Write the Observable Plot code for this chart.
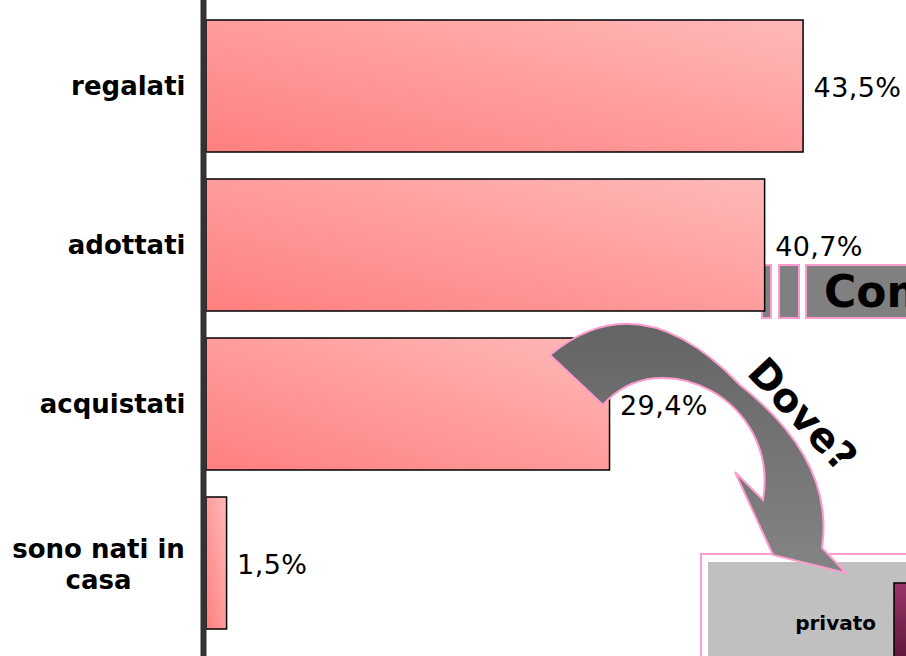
<!DOCTYPE html>
<html><head><meta charset="utf-8">
<script src="https://cdn.jsdelivr.net/npm/d3@7"></script>
<script src="https://cdn.jsdelivr.net/npm/@observablehq/plot@0.6"></script>
<style>
body{margin:0;background:#fff;overflow:hidden}
#chart{position:relative;width:906px;height:656px;overflow:hidden}
</style>
</head><body><div id="chart"></div>
<script>
// Data
const categories = ["regalati", "adottati", "acquistati", "sono nati in\ncasa"];
const values = [43.5, 40.7, 29.4, 1.5];
const valueLabels = ["43,5%", "40,7%", "29,4%", "1,5%"];

const data = categories.map((c, i) => ({category: c, value: values[i], label: valueLabels[i]}));
const singleLine = data.filter(d => !d.category.includes("\n"));
const multiLine = data.filter(d => d.category.includes("\n"));

const plot = Plot.plot({
  width: 906,
  height: 656,
  marginLeft: 206,
  marginRight: 0,
  marginTop: 0,
  marginBottom: 0,
  x: {domain: [0, 51], axis: null},
  y: {domain: categories, range: [5, 643], paddingInner: 0.172, paddingOuter: 0.086, axis: null},
  style: {background: "transparent", fontFamily: "DejaVu Sans", overflow: "hidden"},
  marks: [
    Plot.barX(data, {x: "value", y: "category", fill: "url(#barGrad)", stroke: "#000", strokeWidth: 1.5}),
    Plot.ruleX([0], {stroke: "#333", strokeWidth: 6, dx: -3}),
    Plot.text(singleLine, {x: 0, y: "category", text: "category", textAnchor: "end", dx: -21,
      fontSize: 26, fontWeight: "bold", fill: "#000"}),
    Plot.text(multiLine, {x: 0, y: "category", text: "category", textAnchor: "middle", dx: -108,
      fontSize: 26, fontWeight: "bold", lineHeight: 1.2, fill: "#000"}),
    Plot.text(data, {x: "value", y: "category", text: "label", textAnchor: "start", dx: 10, dy: 1.5,
      fontSize: 27, fill: "#000"})
  ]
});

const svg = d3.select(plot);
const texts = plot.querySelectorAll('g[aria-label="text"]');
d3.select(texts[texts.length - 1]).style("letter-spacing", "0.4px");

// gradients
const defs = svg.insert("defs", ":first-child");
const g1 = defs.append("linearGradient").attr("id", "barGrad")
  .attr("x1", 0).attr("y1", 1).attr("x2", 1).attr("y2", 0);
g1.append("stop").attr("offset", 0).attr("stop-color", "#ff7f7f");
g1.append("stop").attr("offset", 1).attr("stop-color", "#ffb9b9");
const g2 = defs.append("linearGradient").attr("id", "arrowGrad")
  .attr("x1", 0).attr("y1", 0).attr("x2", 0).attr("y2", 1);
g2.append("stop").attr("offset", 0).attr("stop-color", "#646464");
g2.append("stop").attr("offset", 1).attr("stop-color", "#848484");
const g3 = defs.append("linearGradient").attr("id", "purpleGrad")
  .attr("x1", 0).attr("y1", 0).attr("x2", 0).attr("y2", 1);
g3.append("stop").attr("offset", 0).attr("stop-color", "#9a3468");
g3.append("stop").attr("offset", 1).attr("stop-color", "#4c0f2e");

const pink = "#ff9ccf";

// background decoration (behind bars): "Com..." banner
const back = svg.insert("g", 'g[aria-label="bar"]');
back.append("rect").attr("x", 762).attr("y", 265).attr("width", 9).attr("height", 53)
  .attr("fill", "#808080").attr("stroke", pink).attr("stroke-width", 2);
back.append("rect").attr("x", 779).attr("y", 265).attr("width", 20).attr("height", 53)
  .attr("fill", "#808080").attr("stroke", pink).attr("stroke-width", 2);
back.append("rect").attr("x", 806).attr("y", 265).attr("width", 130).attr("height", 53)
  .attr("fill", "#808080").attr("stroke", pink).attr("stroke-width", 2);
back.append("text").attr("x", 824).attr("y", 307).attr("text-anchor", "start")
  .attr("font-size", 44).attr("font-weight", "bold")
  .attr("font-family", "DejaVu Sans").attr("fill", "#000").text("Com");

// foreground decorations
const front = svg.append("g");
front.append("rect").attr("x", 701).attr("y", 554).attr("width", 230).attr("height", 130)
  .attr("fill", "#fff").attr("stroke", pink).attr("stroke-width", 2);
front.append("rect").attr("x", 708).attr("y", 562).attr("width", 220).attr("height", 120)
  .attr("fill", "#c0c0c0");
front.append("rect").attr("x", 894).attr("y", 583).attr("width", 40).attr("height", 100)
  .attr("fill", "url(#purpleGrad)").attr("stroke", "#000").attr("stroke-width", 1.5);
front.append("text").attr("x", 876).attr("y", 630).attr("text-anchor", "end")
  .attr("font-size", 20).attr("font-weight", "bold").attr("font-family", "DejaVu Sans")
  .attr("fill", "#000").text("privato");

// curved arrow
front.append("path")
  .attr("d", "M550,355 Q640,280 740,385 Q835,460 822,548 L846,573 L773,555 L735,472 L763,500 C780,400 660,340 603,405 Z")
  .attr("fill", "url(#arrowGrad)").attr("stroke", pink).attr("stroke-width", 2).attr("stroke-linejoin", "miter");

front.append("text")
  .attr("transform", "translate(803,414) rotate(47)")
  .attr("text-anchor", "middle").attr("dy", "0.36em")
  .attr("font-size", 40).attr("font-weight", "bold").attr("font-family", "DejaVu Sans")
  .attr("fill", "#000").text("Dove?");

document.getElementById("chart").appendChild(plot);
</script>
</body></html>
